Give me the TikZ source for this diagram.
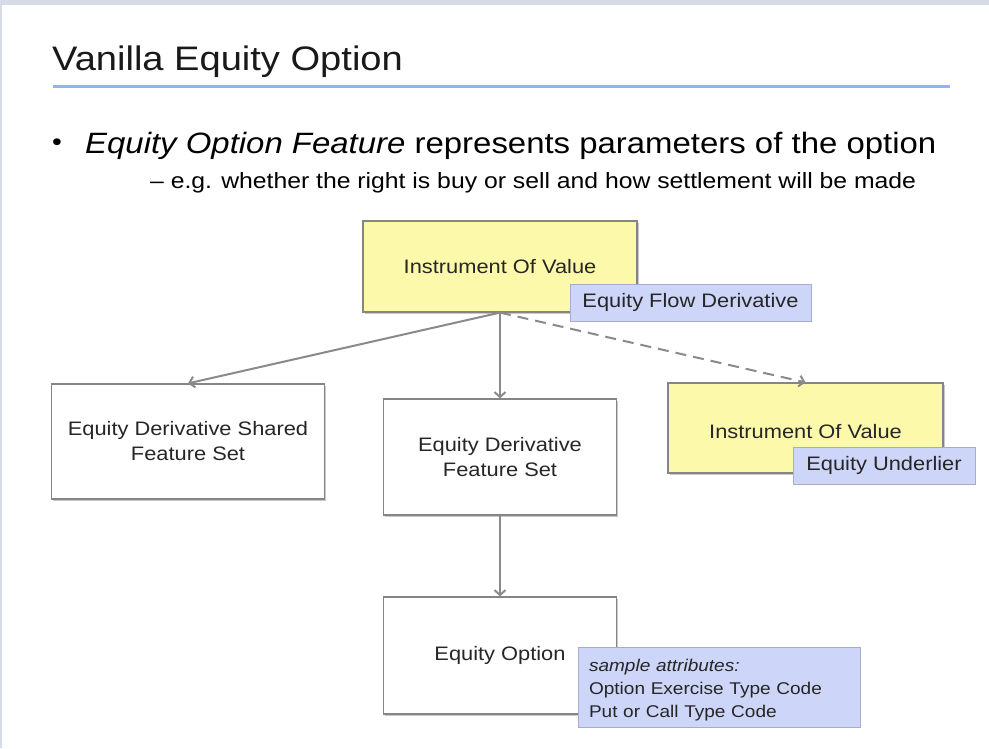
\documentclass[tikz,border=0pt]{standalone}
\usepackage{fontspec}
\setmainfont{Liberation Sans}[FakeStretch=1.12]
\usetikzlibrary{arrows.meta,shadows}
\definecolor{topband}{HTML}{D5DCE5}
\definecolor{rulecol}{HTML}{8EB4F7}
\definecolor{ivfill}{HTML}{FCF9AA}
\definecolor{lblfill}{HTML}{CDD5F8}
\definecolor{lbldraw}{HTML}{A6ACCB}
\definecolor{boxdraw}{HTML}{858585}
\definecolor{conncol}{HTML}{8A8A8A}
\definecolor{txt}{HTML}{262626}
\begin{document}
\begin{tikzpicture}[x=1pt,y=-1pt,
  box/.style={draw=boxdraw, line width=1.2pt, fill=white, align=center,
    font=\fontsize{19.5}{25}\selectfont, text=txt, inner sep=0pt,
    drop shadow={shadow xshift=1.5pt,shadow yshift=-1.5pt,opacity=0.35,fill=black!60}},
  ivbox/.style={box, fill=ivfill},
  lbl/.style={draw=lbldraw, line width=1pt, fill=lblfill, text=txt, inner sep=0pt,
    font=\fontsize{19.5}{25}\selectfont},
  conn/.style={draw=conncol, line width=2pt, -{Straight Barb[length=5pt,width=11pt]}}
]
\useasboundingbox (0,0) rectangle (989,748);
\fill[white] (0,0) rectangle (989,748);
\fill[topband] (0,0) rectangle (989,5);
\fill[topband] (0,0) rectangle (2,748);
\node[anchor=base west, inner sep=0pt, font=\fontsize{34}{40}\selectfont, text=black!90] (title) at (52,70) {Vanilla Equity Option};
\draw[rulecol, line width=3pt] (53,86) -- (950,86);
\node[inner sep=0pt, font=\fontsize{25}{28}\selectfont] (dot) at (57,145) {•};
\node[anchor=base west, inner sep=0pt, font=\fontsize{29.4}{34}\selectfont] (bullet) at (85,153) {\textit{Equity Option Feature} represents parameters of the option};
\node[anchor=base west, inner sep=0pt, font=\fontsize{22.1}{26}\selectfont] (sub) at (150,188) {– e.g. whether the right is buy or sell and how settlement will be made};

\node[ivbox, minimum width=274pt, minimum height=91pt] (iov) at (500,266.5) {Instrument Of Value};
\node[lbl, minimum width=241pt, minimum height=37pt] (efd) at (690.5,302.5) {Equity Flow Derivative};

\node[box, minimum width=273pt, minimum height=115pt] (shared) at (188,441.5) {Equity Derivative Shared\\Feature Set};
\node[box, minimum width=233pt, minimum height=116pt] (eds) at (500,457) {Equity Derivative\\Feature Set};
\node[ivbox, minimum width=275pt, minimum height=90pt] (iou) at (805.5,428) {\rule{0pt}{21pt}Instrument Of Value};
\node[lbl, minimum width=182pt, minimum height=37pt] (eu) at (884,465.5) {Equity Underlier};

\node[box, minimum width=233pt, minimum height=117pt] (eo) at (500,655.5) {Equity Option};
\node[lbl, minimum width=282pt, minimum height=80pt, text width=260pt, inner xsep=11pt, align=left,
  font=\fontsize{17}{23}\selectfont] (attr) at (719,687) {\rule{0pt}{18.5pt}\textit{sample attributes:}\\Option Exercise Type Code\\Put or Call Type Code};

\draw[conn] (iov.south) -- (shared.north);
\draw[conn] (iov.south) -- (eds.north);
\draw[conn, dash pattern=on 11pt off 7pt] (iov.south) -- (iou.north);
\draw[conn] (eds.south) -- (eo.north);
\end{tikzpicture}
\end{document}
